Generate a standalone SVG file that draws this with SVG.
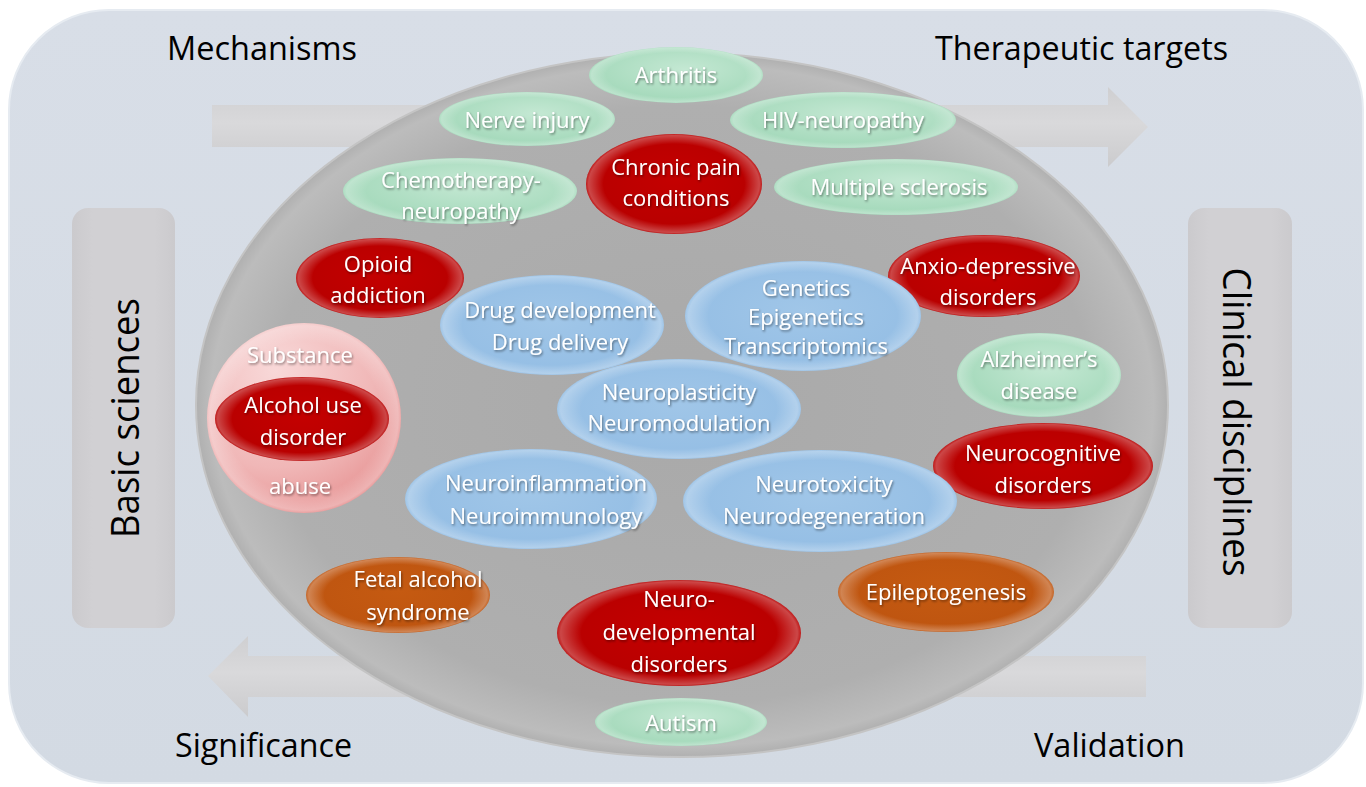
<svg xmlns="http://www.w3.org/2000/svg" width="1366" height="787" viewBox="0 0 1366 787">
<style>
.t{font-family:"Open Sans","Liberation Sans",sans-serif;font-size:22px;fill:#ffffff;text-anchor:middle;filter:url(#ts)}
.g{fill:url(#gGreen)}
.r{fill:url(#gRed)}
.o{fill:url(#gOrange)}
.b{fill:url(#gBlue)}
.rim{fill:url(#gRim)}
.lbl{font-family:"Open Sans","Liberation Sans",sans-serif;font-size:32px;fill:#000}
.big{font-family:"Open Sans","Liberation Sans",sans-serif;font-size:38px;fill:#000;text-anchor:middle}
</style>
<defs>
<filter id="ts" x="-10%" y="-20%" width="120%" height="150%">
<feDropShadow dx="1" dy="1.5" stdDeviation="0.8" flood-color="#000" flood-opacity="0.45"/>
</filter>
<radialGradient id="gGreen" cx="0.55" cy="0.4" r="0.6">
<stop offset="0" stop-color="#c4e8d3"/><stop offset="1" stop-color="#a2d8b9"/>
</radialGradient>
<radialGradient id="gRed" cx="0.5" cy="0.45" r="0.6">
<stop offset="0" stop-color="#c40000"/><stop offset="1" stop-color="#b50000"/>
</radialGradient>
<radialGradient id="gOrange" cx="0.5" cy="0.45" r="0.6">
<stop offset="0" stop-color="#c55a11"/><stop offset="1" stop-color="#bd5410"/>
</radialGradient>
<radialGradient id="gBlue" cx="0.5" cy="0.45" r="0.6">
<stop offset="0" stop-color="#a0c6e8"/><stop offset="1" stop-color="#93bde4"/>
</radialGradient>
<radialGradient id="gPink" cx="0.35" cy="0.25" r="0.85">
<stop offset="0" stop-color="#f8d8d8"/><stop offset="0.6" stop-color="#f0b7b7"/><stop offset="1" stop-color="#e58c8c"/>
</radialGradient>
<radialGradient id="gRim" cx="0.5" cy="0.5" r="0.5">
<stop offset="0.8" stop-color="#ffffff" stop-opacity="0"/><stop offset="0.97" stop-color="#ffffff" stop-opacity="0.28"/><stop offset="1" stop-color="#ffffff" stop-opacity="0.1"/>
</radialGradient>
<radialGradient id="gBig" cx="0.5" cy="0.5" r="0.5">
<stop offset="0" stop-color="#a9a9a9"/><stop offset="0.85" stop-color="#afafaf"/><stop offset="0.97" stop-color="#bcbcbc"/><stop offset="1" stop-color="#b0b0b0"/>
</radialGradient>
<linearGradient id="gArrow" x1="0" y1="0" x2="0" y2="1">
<stop offset="0" stop-color="#cfcfd1"/><stop offset="0.45" stop-color="#d9d9db"/><stop offset="1" stop-color="#cbcbcd"/>
</linearGradient>
<linearGradient id="gSide" x1="0" y1="0" x2="1" y2="0">
<stop offset="0" stop-color="#cbcacd"/><stop offset="0.2" stop-color="#d1d0d3"/><stop offset="0.8" stop-color="#d1d0d3"/><stop offset="1" stop-color="#cbcacd"/>
</linearGradient>
<linearGradient id="gOuter" x1="0" y1="0" x2="0" y2="1">
<stop offset="0" stop-color="#d8dee7"/><stop offset="1" stop-color="#d3dae3"/>
</linearGradient>
</defs>

<g id="background">
<rect x="9" y="10" width="1354" height="773" rx="100" ry="100" fill="url(#gOuter)" stroke="#e6ebf1" stroke-width="2"/>
</g>

<g id="connectors">
<polygon points="212,105 1108,105 1108,87 1148,127 1108,167 1108,147 212,147" fill="url(#gArrow)"/>
<polygon points="1146,656 248,656 248,636 208,676 248,717 248,697 1146,697" fill="url(#gArrow)"/>
</g>

<g id="basic-sciences">
<rect x="72" y="208" width="103" height="420" rx="16" fill="url(#gSide)"/>
<text class="big" transform="translate(139,418) rotate(-90)" textLength="240" lengthAdjust="spacingAndGlyphs">Basic sciences</text>
</g>
<g id="clinical-disciplines">
<rect x="1188" y="208" width="104" height="420" rx="16" fill="url(#gSide)"/>
<text class="big" transform="translate(1223,422) rotate(90)" textLength="309" lengthAdjust="spacingAndGlyphs">Clinical disciplines</text>
</g>

<g id="labels">
<text class="lbl" x="167" y="60" textLength="190" lengthAdjust="spacingAndGlyphs">Mechanisms</text>
<text class="lbl" x="935" y="60" textLength="293" lengthAdjust="spacingAndGlyphs">Therapeutic targets</text>
<text class="lbl" x="175" y="757" textLength="177" lengthAdjust="spacingAndGlyphs">Significance</text>
<text class="lbl" x="1034" y="757" textLength="151" lengthAdjust="spacingAndGlyphs">Validation</text>
</g>

<g id="hub">
<ellipse cx="682" cy="405" rx="486" ry="352" fill="url(#gBig)" stroke="#c4c4c4" stroke-width="2"/>
</g>

<g id="arthritis"><ellipse class="g" cx="676" cy="75" rx="87" ry="28"/><ellipse class="rim" cx="676" cy="75" rx="87" ry="28"/><text class="t" x="676" y="83">Arthritis</text></g>
<g id="nerve-injury"><ellipse class="g" cx="527" cy="119" rx="88" ry="27"/><ellipse class="rim" cx="527" cy="119" rx="88" ry="27"/><text class="t" x="527" y="128">Nerve injury</text></g>
<g id="hiv-neuropathy"><ellipse class="g" cx="843" cy="120" rx="113" ry="28"/><ellipse class="rim" cx="843" cy="120" rx="113" ry="28"/><text class="t" x="843" y="128">HIV-neuropathy</text></g>
<g id="chemotherapy-neuropathy"><ellipse class="g" cx="460" cy="191" rx="117" ry="33"/><ellipse class="rim" cx="460" cy="191" rx="117" ry="33"/><text class="t" x="461" y="188">Chemotherapy-</text><text class="t" x="461" y="219">neuropathy</text></g>
<g id="chronic-pain"><ellipse class="r" cx="674" cy="184" rx="88" ry="50"/><ellipse class="rim" cx="674" cy="184" rx="88" ry="50"/><text class="t" x="676" y="175">Chronic pain</text><text class="t" x="676" y="206">conditions</text></g>
<g id="multiple-sclerosis"><ellipse class="g" cx="896" cy="187" rx="122" ry="28"/><ellipse class="rim" cx="896" cy="187" rx="122" ry="28"/><text class="t" x="899" y="195">Multiple sclerosis</text></g>
<g id="opioid-addiction"><ellipse class="r" cx="380" cy="278" rx="84" ry="40"/><ellipse class="rim" cx="380" cy="278" rx="84" ry="40"/><text class="t" x="378" y="272">Opioid</text><text class="t" x="378" y="303">addiction</text></g>
<g id="anxio-depressive"><ellipse class="r" cx="984" cy="276" rx="96" ry="41"/><ellipse class="rim" cx="984" cy="276" rx="96" ry="41"/><text class="t" x="988" y="274">Anxio-depressive</text><text class="t" x="988" y="305">disorders</text></g>
<g id="drug-development"><ellipse class="b" cx="552" cy="325" rx="112" ry="50"/><ellipse class="rim" cx="552" cy="325" rx="112" ry="50"/><text class="t" x="560" y="318">Drug development</text><text class="t" x="560" y="350">Drug delivery</text></g>
<g id="genetics"><ellipse class="b" cx="803" cy="316" rx="118" ry="55"/><ellipse class="rim" cx="803" cy="316" rx="118" ry="55"/><text class="t" x="806" y="296">Genetics</text><text class="t" x="806" y="325">Epigenetics</text><text class="t" x="806" y="354">Transcriptomics</text></g>
<g id="substance-abuse"><ellipse fill="url(#gPink)" cx="304" cy="418" rx="97" ry="95"/><ellipse class="rim" cx="304" cy="418" rx="97" ry="95"/><text class="t" x="300" y="363">Substance</text><text class="t" x="300" y="494">abuse</text>
<g id="alcohol-use-disorder"><ellipse class="r" cx="302" cy="419" rx="87" ry="42"/><ellipse class="rim" cx="302" cy="419" rx="87" ry="42"/><text class="t" x="303" y="413">Alcohol use</text><text class="t" x="303" y="445">disorder</text></g></g>
<g id="alzheimers"><ellipse class="g" cx="1039" cy="375" rx="82" ry="42"/><ellipse class="rim" cx="1039" cy="375" rx="82" ry="42"/><text class="t" x="1039" y="367">Alzheimer’s</text><text class="t" x="1039" y="399">disease</text></g>
<g id="neuroplasticity"><ellipse class="b" cx="679" cy="409" rx="122" ry="50"/><ellipse class="rim" cx="679" cy="409" rx="122" ry="50"/><text class="t" x="679" y="400">Neuroplasticity</text><text class="t" x="679" y="431">Neuromodulation</text></g>
<g id="neurocognitive"><ellipse class="r" cx="1043" cy="466" rx="110" ry="43"/><ellipse class="rim" cx="1043" cy="466" rx="110" ry="43"/><text class="t" x="1043" y="461">Neurocognitive</text><text class="t" x="1043" y="493">disorders</text></g>
<g id="neuroinflammation"><ellipse class="b" cx="531" cy="499" rx="126" ry="50"/><ellipse class="rim" cx="531" cy="499" rx="126" ry="50"/><text class="t" x="546" y="491">Neuroinflammation</text><text class="t" x="546" y="524">Neuroimmunology</text></g>
<g id="neurotoxicity"><ellipse class="b" cx="820" cy="501" rx="137" ry="51"/><ellipse class="rim" cx="820" cy="501" rx="137" ry="51"/><text class="t" x="824" y="492">Neurotoxicity</text><text class="t" x="824" y="524">Neurodegeneration</text></g>
<g id="fetal-alcohol"><ellipse class="o" cx="398" cy="595" rx="92" ry="38"/><ellipse class="rim" cx="398" cy="595" rx="92" ry="38"/><text class="t" x="418" y="587">Fetal alcohol</text><text class="t" x="418" y="620">syndrome</text></g>
<g id="epileptogenesis"><ellipse class="o" cx="946" cy="592" rx="108" ry="40"/><ellipse class="rim" cx="946" cy="592" rx="108" ry="40"/><text class="t" x="946" y="600">Epileptogenesis</text></g>
<g id="neurodevelopmental"><ellipse class="r" cx="679" cy="633" rx="122" ry="53"/><ellipse class="rim" cx="679" cy="633" rx="122" ry="53"/><text class="t" x="679" y="607">Neuro-</text><text class="t" x="679" y="640">developmental</text><text class="t" x="679" y="672">disorders</text></g>
<g id="autism"><ellipse class="g" cx="681" cy="722" rx="86" ry="24"/><ellipse class="rim" cx="681" cy="722" rx="86" ry="24"/><text class="t" x="681" y="731">Autism</text></g>
</svg>
